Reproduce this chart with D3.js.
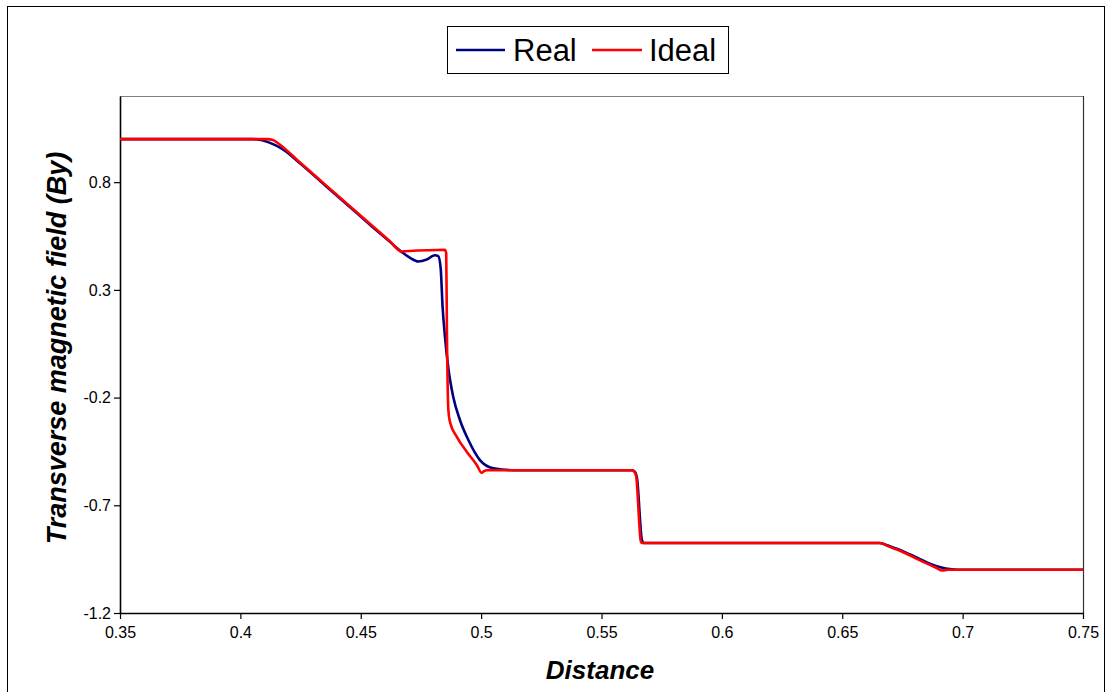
<!DOCTYPE html>
<html>
<head>
<meta charset="utf-8">
<script src="https://cdn.jsdelivr.net/npm/d3@7"></script>
<style>
    html, body { margin: 0; padding: 0; background: #fff; }
    svg { display: block; font-family: Arial, "Liberation Sans", sans-serif; }
    .tick text { font-size: 16px; fill: #000; }
</style>
</head>
<body>
<div id="chart"></div>
<script>
// ============================================
// TRANSVERSE MAGNETIC FIELD (By) vs DISTANCE
// ============================================

// ---- data ----
const realX = [0.35, 0.405, 0.4085, 0.4115, 0.4145, 0.418, 0.425, 0.435, 0.445, 0.455, 0.462,
    0.467, 0.4705, 0.4739, 0.4774, 0.4808, 0.4822, 0.4832, 0.484, 0.485, 0.4864, 0.4884,
    0.4912, 0.4947, 0.4995, 0.5051, 0.5134, 0.5627, 0.5639, 0.5647, 0.5668, 0.5675, 0.6655,
    0.667, 0.669, 0.674, 0.6823, 0.689, 0.693, 0.698, 0.75];
const realY = [1.0, 1.0, 0.996, 0.986, 0.972, 0.95, 0.885, 0.787, 0.689, 0.591, 0.524,
    0.476, 0.449, 0.432, 0.441, 0.461, 0.457, 0.40, 0.22, 0.08, -0.065, -0.196,
    -0.304, -0.397, -0.49, -0.528, -0.537, -0.537, -0.545, -0.57, -0.862, -0.875, -0.875,
    -0.878, -0.887, -0.907, -0.95, -0.982, -0.994, -0.999, -0.999];

const idealX = [0.35, 0.411, 0.4135, 0.4155, 0.425, 0.435, 0.445, 0.455, 0.462, 0.467, 0.4685,
    0.4849, 0.4855, 0.4858, 0.4864, 0.4871, 0.4899, 0.494, 0.4982, 0.5002, 0.5014, 0.5023,
    0.5625, 0.5637, 0.5644, 0.5663, 0.5668, 0.6655, 0.6668, 0.6685, 0.674, 0.6823, 0.689,
    0.6915, 0.694, 0.75];
const idealY = [1.0, 1.0, 0.996, 0.982, 0.889, 0.791, 0.693, 0.595, 0.527, 0.478, 0.479,
    0.486, 0.47, 0.1, -0.26, -0.315, -0.382, -0.451, -0.513, -0.549, -0.54, -0.537,
    -0.537, -0.545, -0.565, -0.865, -0.875, -0.875, -0.878, -0.887, -0.911, -0.956, -0.99,
    -1.003, -0.999, -0.999];

const xTicks = [0.35, 0.4, 0.45, 0.5, 0.55, 0.6, 0.65, 0.7, 0.75];
const xTickLabels = ['0.35', '0.4', '0.45', '0.5', '0.55', '0.6', '0.65', '0.7', '0.75'];
const yTicks = [-1.2, -0.7, -0.2, 0.3, 0.8];
const yTickLabels = ['-1.2', '-0.7', '-0.2', '0.3', '0.8'];

const seriesNames = ['Real', 'Ideal'];
const seriesColors = ['#000080', '#ff0000'];

// ---- layout ----
const width = 1111;
const height = 692;
const plot = { left: 120, right: 1083, top: 96, bottom: 613 };

const svg = d3.select('#chart')
    .append('svg')
    .attr('width', width)
    .attr('height', height);

// outer frame
svg.append('rect')
    .attr('x', 7.5).attr('y', 6.5)
    .attr('width', 1097).attr('height', 700)
    .attr('fill', 'none')
    .attr('stroke', '#000')
    .attr('stroke-width', 1);

// scales
const x = d3.scaleLinear().domain([0.35, 0.75]).range([plot.left, plot.right]);
const y = d3.scaleLinear().domain([-1.2, 1.2]).range([plot.bottom, plot.top]);

// plot area border (top/right)
svg.append('line')
    .attr('x1', plot.left).attr('x2', plot.right)
    .attr('y1', plot.top + 0.5).attr('y2', plot.top + 0.5)
    .attr('stroke', '#808080').attr('stroke-width', 1);
svg.append('line')
    .attr('x1', plot.right + 0.5).attr('x2', plot.right + 0.5)
    .attr('y1', plot.top).attr('y2', plot.bottom)
    .attr('stroke', '#333').attr('stroke-width', 1.2);

// axes
const xAxis = svg.append('g')
    .attr('transform', `translate(0,${plot.bottom})`)
    .call(d3.axisBottom(x)
        .tickValues(xTicks)
        .tickFormat((d, i) => xTickLabels[i])
        .tickSize(6)
        .tickSizeOuter(0)
        .tickPadding(8));

const yAxis = svg.append('g')
    .attr('transform', `translate(${plot.left},0)`)
    .call(d3.axisLeft(y)
        .tickValues(yTicks)
        .tickFormat((d, i) => yTickLabels[i])
        .tickSize(6)
        .tickSizeOuter(0)
        .tickPadding(3));

[xAxis, yAxis].forEach(a => {
    a.attr('font-family', null).attr('font-size', null);
    a.select('.domain').attr('stroke', '#000').attr('stroke-width', 1.6);
    a.selectAll('.tick line').attr('stroke', '#000').attr('stroke-width', 1.2);
});

// axis titles
svg.append('text')
    .attr('transform', 'translate(66,348) rotate(-90)')
    .attr('text-anchor', 'middle')
    .attr('font-size', 27)
    .attr('font-weight', 'bold')
    .attr('font-style', 'italic')
    .text('Transverse magnetic field (By)');

svg.append('text')
    .attr('x', 600)
    .attr('y', 679)
    .attr('text-anchor', 'middle')
    .attr('font-size', 26)
    .attr('font-weight', 'bold')
    .attr('font-style', 'italic')
    .text('Distance');

// ---- series ----
const line = d3.line()
    .x(d => x(d[0]))
    .y(d => y(d[1]))
    .curve(d3.curveMonotoneX);

const series = [
    d3.zip(realX, realY),
    d3.zip(idealX, idealY)
];

svg.append('g')
    .selectAll('path')
    .data(series)
    .enter().append('path')
    .attr('d', d => line(d))
    .attr('fill', 'none')
    .attr('stroke', (d, i) => seriesColors[i])
    .attr('stroke-width', 2.6)
    .attr('stroke-linejoin', 'round');

// ---- legend ----
const legend = svg.append('g');
legend.append('rect')
    .attr('x', 447.5).attr('y', 26.5)
    .attr('width', 281).attr('height', 47)
    .attr('fill', '#fff')
    .attr('stroke', '#000')
    .attr('stroke-width', 1);

const legendItems = [
    { x1: 456, x2: 505, tx: 513 },
    { x1: 592, x2: 642, tx: 649 }
];

legendItems.forEach((item, i) => {
    legend.append('line')
        .attr('x1', item.x1).attr('x2', item.x2)
        .attr('y1', 50).attr('y2', 50)
        .attr('stroke', seriesColors[i])
        .attr('stroke-width', 2.6);
    legend.append('text')
        .attr('x', item.tx)
        .attr('y', 61)
        .attr('font-size', 31)
        .text(seriesNames[i]);
});
</script>
</body>
</html>
